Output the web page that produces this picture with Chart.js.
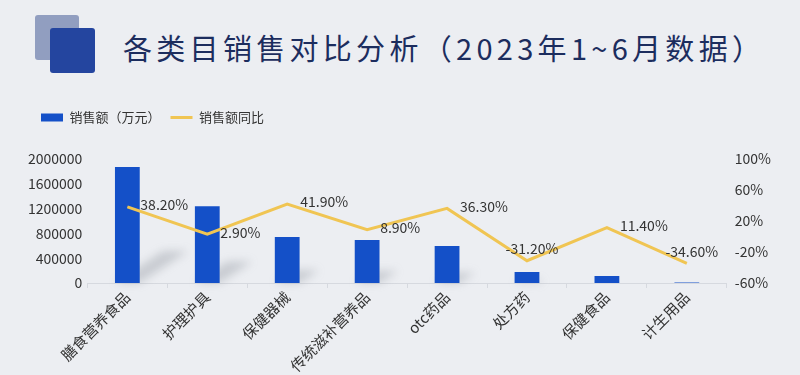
<!DOCTYPE html>
<html>
<head>
<meta charset="utf-8">
<script src="https://cdn.jsdelivr.net/npm/chart.js@4.4.0/dist/chart.umd.min.js"></script>
<style>
  body { margin: 0; background: #eceef2; }
  .wrap { position: relative; width: 800px; height: 375px; }
  .icon1 { position: absolute; left: 35px; top: 15px; width: 44px; height: 45px; background: #919ec0; border-radius: 3px; }
  .icon2 { position: absolute; left: 50px; top: 28px; width: 45px; height: 45px; background: #24459f; border-radius: 3px; }
  .title { position: absolute; left: 123px; top: 28px; font: 29px "Noto Sans CJK SC", sans-serif; color: #1c2d5e; letter-spacing: 4.3px; line-height: 38px; white-space: nowrap; }
  canvas { position: absolute; left: 0; top: 0; }
</style>
</head>
<body>
<div class="wrap">
  <div class="icon1"></div>
  <div class="icon2"></div>
  <div class="title">各类目销售对比分析（2023年1~6月数据）</div>
  <canvas id="chart1" width="800" height="375"></canvas>
</div>
<script>
var categories = ["膳食营养食品", "护理护具", "保健器械", "传统滋补营养品", "otc药品", "处方药", "保健食品", "计生用品"];
var sales = [1870000, 1240000, 742000, 694000, 597000, 177000, 113000, 8000];
var growth = [38.2, 2.9, 41.9, 8.9, 36.3, -31.2, 11.4, -34.6];
var leftTicks = [0, 400000, 800000, 1200000, 1600000, 2000000];
var rightTicks = [-60, -20, 20, 60, 100];

var font = '"Noto Sans CJK SC", sans-serif';

// extra space under the legend, and nudge it right
var legendGap = {
    id: 'legendGap',
    beforeInit: function (chart) {
        var fit = chart.legend.fit;
        chart.legend.fit = function () {
            fit.bind(chart.legend)();
            this.height += 25;
        };
    },
    afterLayout: function (chart) {
        chart.legend.left += 8;
        chart.legend.right += 8;
    }
};

// soft floor shadow behind each bar
var barShadow = {
    id: 'barShadow',
    beforeDatasetsDraw: function (chart) {
        var meta = chart.getDatasetMeta(0);
        var ctx = chart.ctx;
        ctx.save();
        ctx.filter = 'blur(4px)';
        ctx.fillStyle = 'rgba(120,125,135,0.3)';
        meta.data.forEach(function (bar) {
            var h = bar.base - bar.y;
            if (h < 8) return;
            var w = bar.width;
            var len = Math.min(h * 0.35, 40);
            ctx.beginPath();
            ctx.moveTo(bar.x + w / 2, bar.base);
            ctx.lineTo(bar.x - w / 2, bar.base);
            ctx.lineTo(bar.x - w / 2 + len * 1.2, bar.base - len * 0.8);
            ctx.lineTo(bar.x + w / 2 + len * 1.2, bar.base - len * 0.8);
            ctx.closePath();
            ctx.fill();
        });
        ctx.restore();
    }
};

// percent labels on the line
var lineLabels = {
    id: 'lineLabels',
    afterDatasetsDraw: function (chart) {
        var meta = chart.getDatasetMeta(1);
        var ctx = chart.ctx;
        ctx.save();
        ctx.font = '14px ' + font;
        ctx.fillStyle = '#333333';
        ctx.textBaseline = 'middle';
        meta.data.forEach(function (pt, i) {
            var v = growth[i];
            var txt = v.toFixed(2) + '%';
            if (v >= 0) {
                ctx.textAlign = 'left';
                ctx.fillText(txt, pt.x + 13, pt.y - 2);
            } else {
                ctx.textAlign = 'center';
                ctx.fillText(txt, pt.x + 5, pt.y - 12);
            }
        });
        ctx.restore();
    }
};

var ctx = document.getElementById("chart1").getContext("2d");
new Chart(ctx, {
    type: 'bar',
    data: {
        labels: categories,
        datasets: [
            {
                label: '销售额（万元）',
                data: sales,
                backgroundColor: '#1450c8',
                barPercentage: 0.62,
                categoryPercentage: 0.5,
                yAxisID: 'y',
                pointStyle: 'rect',
                order: 2
            },
            {
                type: 'line',
                label: '销售额同比',
                data: growth,
                borderColor: '#f0c553',
                backgroundColor: '#f0c553',
                borderWidth: 3,
                pointRadius: 0,
                tension: 0,
                yAxisID: 'y1',
                pointStyle: 'line',
                order: 1
            }
        ]
    },
    options: {
        responsive: false,
        animation: false,
        layout: {
            padding: { top: 101, left: 23, right: 21, bottom: 0 }
        },
        plugins: {
            tooltip: { enabled: false },
            legend: {
                position: 'top',
                align: 'start',
                labels: {
                    usePointStyle: true,
                    pointStyleWidth: 22,
                    boxHeight: 8,
                    padding: 10,
                    color: '#333333',
                    font: { family: font, size: 13 },
                    sort: function (a, b) { return a.datasetIndex - b.datasetIndex; }
                }
            }
        },
        scales: {
            x: {
                afterFit: function (axis) {
                    axis.paddingLeft = 0;
                    axis.paddingRight = 0;
                },
                grid: {
                    display: true,
                    drawOnChartArea: false,
                    offset: true,
                    color: '#d6d9df',
                    tickLength: 5
                },
                border: { color: '#d6d9df' },
                ticks: {
                    color: '#333333',
                    font: { family: font, size: 15 },
                    minRotation: 45,
                    maxRotation: 45,
                    padding: 0
                }
            },
            y: {
                position: 'left',
                min: 0,
                max: 2000000,
                afterBuildTicks: function (axis) {
                    axis.ticks = leftTicks.map(function (v) { return { value: v }; });
                },
                grid: { display: false, drawTicks: false },
                border: { display: false },
                ticks: {
                    color: '#333333',
                    font: { family: font, size: 14 },
                    padding: 5,
                    callback: function (v) { return String(v); }
                }
            },
            y1: {
                position: 'right',
                min: -60,
                max: 100,
                afterBuildTicks: function (axis) {
                    axis.ticks = rightTicks.map(function (v) { return { value: v }; });
                },
                grid: { display: false, drawTicks: false },
                border: { display: false },
                ticks: {
                    color: '#333333',
                    font: { family: font, size: 14 },
                    padding: 8,
                    callback: function (v) { return v + '%'; }
                }
            }
        }
    },
    plugins: [legendGap, barShadow, lineLabels]
});
</script>
</body>
</html>
